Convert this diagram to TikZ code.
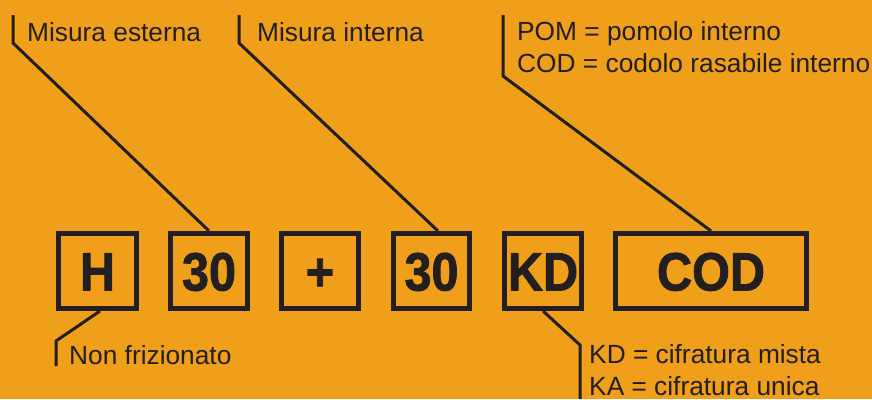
\documentclass[tikz,border=0pt]{standalone}
\usepackage{fontspec}
\setmainfont{Liberation Sans}
\newfontfamily\boxfont[FakeStretch=0.9, BoldFeatures={FakeBold=1.5}]{Liberation Sans}
\definecolor{bgorange}{RGB}{239,159,26}
\definecolor{ink}{RGB}{35,31,32}
\tikzset{
	codebox/.style={draw=ink, text=ink, line width=5pt, minimum width=77pt, minimum height=75pt, inner sep=0pt, text height=39pt, text depth=0pt, font=\boxfont\bfseries\fontsize{54}{54}\selectfont},
	lbl/.style={anchor=base west, inner sep=0pt, text=ink, font=\fontsize{26.3}{32}\selectfont},
	leader/.style={draw=ink, line width=3pt}
}
\begin{document}
\begin{tikzpicture}[x=1pt, y=-1pt]
	\fill[bgorange] (0,0) rectangle (872,399);
	\useasboundingbox (0,0) rectangle (872,399);

	\node (H) at (97.5,271) [codebox, minimum width=78pt] {H};
	\node (B30a) at (209,271) [codebox] {30};
	\node (plus) at (320,271) [codebox] {+};
	\node (B30b) at (431.5,271) [codebox, minimum width=76pt] {30};
	\node (KD) at (543,271) [codebox] {KD};
	\node (COD) at (711,271) [codebox, minimum width=191pt] {COD};

	\node (est) at (27,41) [lbl] {Misura esterna};
	\node (int) at (257,41) [lbl] {Misura interna};
	\node (pom) at (517,40) [lbl] {POM = pomolo interno};
	\node (cod) at (517,72) [lbl] {COD = codolo rasabile interno};
	\node (fri) at (69,364) [lbl] {Non frizionato};
	\node (kdm) at (589,363) [lbl] {KD = cifratura mista};
	\node (kau) at (589,395) [lbl] {KA = cifratura unica};

	\coordinate (estT) at (13,15);
	\coordinate (estC) at (13,43);
	\coordinate (intT) at (239,15);
	\coordinate (intC) at (239,43);
	\coordinate (pomT) at (503,15);
	\coordinate (pomC) at (503,76);
	\coordinate (friC) at (56,341);
	\coordinate (friB) at (56,366);
	\coordinate (kdC) at (580,345);
	\coordinate (kdB) at (580,399);

	\draw [leader] (estT) -- (estC) -- (B30a.north);
	\draw [leader] (intT) -- (intC) -- ([xshift=6.5pt]B30b.north);
	\draw [leader] (pomT) -- (pomC) -- (COD.north);
	\draw [leader] ([xshift=2.5pt]H.south) -- (friC) -- (friB);
	\draw [leader] (KD.south) -- (kdC) -- (kdB);
\end{tikzpicture}
\end{document}
